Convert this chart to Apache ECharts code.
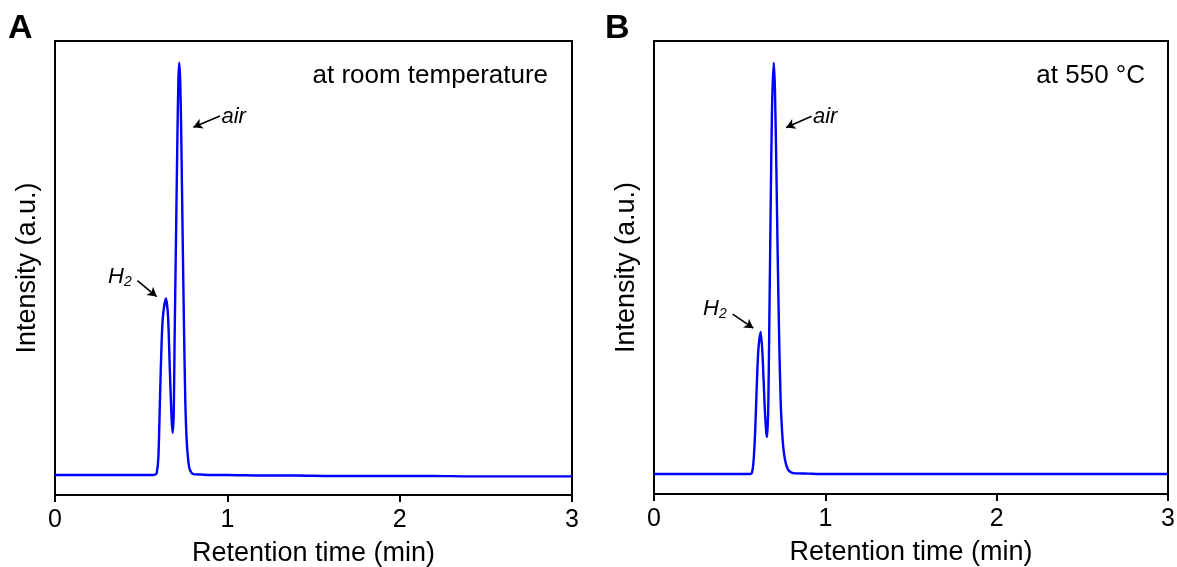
<!DOCTYPE html>
<html>
<head>
<meta charset="utf-8">
<script src="https://cdn.jsdelivr.net/npm/echarts@6/dist/echarts.min.js"></script>
<style>
html,body{margin:0;padding:0;background:#fff;}
#main{width:1177px;height:567px;}
</style>
</head>
<body>
<div id="main"></div>
<script>
// ---- Data ----
const xTicks = [0, 1, 2, 3];

// Panel A: at room temperature
const timeA = [0, 0.1, 0.2, 0.3, 0.4, 0.5, 0.56, 0.58, 0.590, 0.600, 0.609, 0.619, 0.628, 0.644, 0.656, 0.667, 0.677, 0.683, 0.689, 0.694, 0.702, 0.710, 0.716, 0.721, 0.727, 0.733, 0.741, 0.749, 0.756, 0.764, 0.774, 0.783, 0.803, 0.85, 0.9, 1.0, 1.2, 1.4, 1.6, 1.8, 2.0, 2.2, 2.4, 2.6, 2.8, 3.0];
const intensityA = [4.4, 4.4, 4.4, 4.4, 4.4, 4.4, 4.4, 4.5, 4.8, 8.4, 20.9, 34.1, 40.0, 43.3, 39.3, 26.8, 16.5, 13.7, 18.0, 34.1, 56.2, 78.2, 91.4, 95.2, 90.7, 78.2, 56.2, 35.7, 20.9, 12.1, 7.3, 5.5, 4.6, 4.5, 4.4, 4.4, 4.3, 4.3, 4.2, 4.2, 4.2, 4.2, 4.1, 4.1, 4.1, 4.1];

// Panel B: at 550 °C
const timeB = [0, 0.1, 0.2, 0.3, 0.4, 0.5, 0.55, 0.570, 0.580, 0.590, 0.599, 0.609, 0.623, 0.634, 0.646, 0.656, 0.661, 0.667, 0.673, 0.681, 0.689, 0.699, 0.706, 0.714, 0.722, 0.730, 0.739, 0.751, 0.765, 0.784, 0.813, 0.9, 1.0, 1.2, 1.4, 1.6, 1.8, 2.0, 2.2, 2.4, 2.6, 2.8, 3.0];
const intensityB = [4.4, 4.4, 4.4, 4.4, 4.4, 4.4, 4.4, 4.6, 6.8, 13.4, 23.0, 31.8, 35.8, 30.3, 19.3, 13.4, 12.6, 19.3, 37.7, 63.4, 85.5, 95.2, 89.2, 72.3, 52.4, 35.5, 20.8, 11.9, 7.5, 5.3, 4.6, 4.5, 4.4, 4.4, 4.4, 4.4, 4.4, 4.4, 4.4, 4.4, 4.4, 4.4, 4.4];

// Annotations (data coordinates)
const conditionLabels = ['at room temperature', 'at 550 °C'];
const conditionPosA = [2.861, 92.3];
const conditionPosB = [2.866, 92.3];
const airTextA = [0.966, 83.3], airArrowA = [[0.957, 83.5], [0.803, 81.0]];
const h2TextA = [0.308, 48.0], h2ArrowA = [[0.478, 47.2], [0.590, 43.7]];
const airTextB = [0.928, 83.2], airArrowB = [[0.920, 83.4], [0.771, 80.9]];
const h2TextB = [0.286, 40.8], h2ArrowB = [[0.459, 39.7], [0.580, 36.6]];

const FONT = 'Liberation Sans, Arial, sans-serif';
const pairs = (t, v) => t.map((x, i) => [x, v[i]]);

function textPoint(coord, text, align, italic, size) {
  return {
    coord: coord,
    symbol: 'circle', symbolSize: 0,
    itemStyle: {color: 'rgba(0,0,0,0)'},
    label: {
      show: true, position: 'inside', align: align, verticalAlign: 'middle',
      formatter: text,
      color: '#000', fontFamily: FONT, fontSize: size,
      fontStyle: italic ? 'italic' : 'normal',
      rich: {
        i: {fontFamily: FONT, fontSize: 22, fontStyle: 'italic', color: '#000'},
        s: {fontFamily: FONT, fontSize: 14, fontStyle: 'italic', color: '#000', padding: [10, 0, 0, 0]}
      }
    }
  };
}

function arrow(seg) {
  return [{coord: seg[0]}, {coord: seg[1]}];
}

function makeSeries(idx, data, cond, condPos, airT, airA, h2T, h2A) {
  return {
    type: 'line', xAxisIndex: idx, yAxisIndex: idx,
    data: data, showSymbol: false, smooth: 0.25,
    lineStyle: {color: '#0000ff', width: 2.4},
    itemStyle: {color: '#0000ff'},
    silent: true,
    markPoint: {
      silent: true, animation: false,
      data: [
        textPoint(condPos, cond, 'right', false, 26),
        textPoint(airT, 'air', 'left', true, 22),
        textPoint(h2T, '{i|H}{s|2}', 'left', true, 22)
      ]
    },
    markLine: {
      silent: true, animation: false,
      symbol: ['none', 'arrow'], symbolSize: [8, 9],
      lineStyle: {color: '#000', width: 1.6, type: 'solid'},
      label: {show: false},
      data: [arrow(airA), arrow(h2A)]
    }
  };
}

function xAx(idx) {
  return {
    gridIndex: idx, type: 'value', min: 0, max: 3, interval: 1,
    name: 'Retention time (min)', nameLocation: 'middle', nameGap: 45,
    nameTextStyle: {fontFamily: FONT, fontSize: 27, color: '#000'},
    axisLine: {show: true, onZero: false, lineStyle: {color: '#000', width: 2}},
    axisTick: {show: true, length: 7, lineStyle: {color: '#000', width: 2}},
    axisLabel: {fontFamily: FONT, fontSize: 25, color: '#000', margin: 13,
      formatter: v => xTicks.includes(v) ? String(v) : ''},
    splitLine: {show: false}
  };
}
function yAx(idx) {
  return {
    gridIndex: idx, type: 'value', min: 0, max: 100,
    name: 'Intensity (a.u.)', nameLocation: 'middle', nameGap: 14,
    nameTextStyle: {fontFamily: FONT, fontSize: 27, color: '#000'},
    axisLine: {show: true, lineStyle: {color: '#000', width: 2}},
    axisTick: {show: false}, axisLabel: {show: false}, splitLine: {show: false}
  };
}

const chart = echarts.init(document.getElementById('main'), null, {renderer: 'canvas'});
chart.setOption({
  animation: false,
  backgroundColor: '#fff',
  title: [
    {text: 'A', left: 3, top: 7, textStyle: {fontFamily: FONT, fontSize: 34, fontWeight: 'bold', color: '#000'}},
    {text: 'B', left: 600, top: 7, textStyle: {fontFamily: FONT, fontSize: 34, fontWeight: 'bold', color: '#000'}}
  ],
  grid: [
    {left: 55, top: 41, width: 517, height: 454, containLabel: false, outerBoundsMode: 'none', show: true, borderColor: '#000', borderWidth: 2, backgroundColor: 'transparent'},
    {left: 654, top: 41, width: 514, height: 453, containLabel: false, outerBoundsMode: 'none', show: true, borderColor: '#000', borderWidth: 2, backgroundColor: 'transparent'}
  ],
  xAxis: [xAx(0), xAx(1)],
  yAxis: [yAx(0), yAx(1)],
  series: [
    makeSeries(0, pairs(timeA, intensityA), conditionLabels[0], conditionPosA, airTextA, airArrowA, h2TextA, h2ArrowA),
    makeSeries(1, pairs(timeB, intensityB), conditionLabels[1], conditionPosB, airTextB, airArrowB, h2TextB, h2ArrowB)
  ]
});
</script>
</body>
</html>
